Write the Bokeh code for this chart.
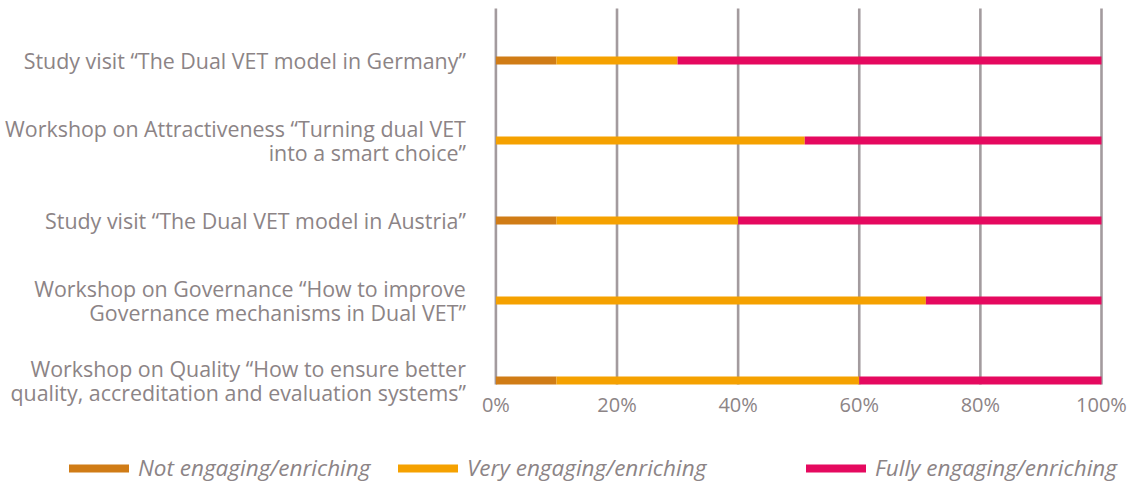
from bokeh.plotting import figure
from bokeh.models import (ColumnDataSource, Range1d, FixedTicker, Legend, LegendItem)
from bokeh.embed import file_html
from bokeh.resources import INLINE

# Data (top to bottom as shown)
categories = [
    "Study visit \u201cThe Dual VET model in Germany\u201d",
    "Workshop on Attractiveness \u201cTurning dual VET\ninto a smart choice\u201d",
    "Study visit \u201cThe Dual VET model in Austria\u201d",
    "Workshop on Governance \u201cHow to improve\nGovernance mechanisms in Dual VET\u201d",
    "Workshop on Quality \u201cHow to ensure better\nquality, accreditation and evaluation systems\u201d",
]
not_engaging = [10, 0, 10, 0, 10]
very_engaging = [20, 51, 30, 71, 50]
fully_engaging = [70, 49, 60, 29, 40]
series_names = ["Not engaging/enriching", "Very engaging/enriching", "Fully engaging/enriching"]
colors = ["#d07c16", "#f5a100", "#e5095f"]
x_ticks = [0, 20, 40, 60, 80, 100]
x_tick_labels = ["0%", "20%", "40%", "60%", "80%", "100%"]

n = len(categories)
ypos = [n - 1 - i for i in range(n)]

source = ColumnDataSource(dict(
    y=ypos,
    not_e=not_engaging,
    very_e=very_engaging,
    fully_e=fully_engaging,
))

# chart extents (layout)
Y_LOW, Y_HIGH = -0.05, 4.65
grid_src = ColumnDataSource(dict(x=x_ticks, y0=[Y_LOW] * len(x_ticks), y1=[Y_HIGH] * len(x_ticks)))

FONT = "Open Sans"
TXT = "#8c8486"
GRID = "#a39b9e"

p = figure(width=1136, height=483, output_backend="svg", toolbar_location=None,
           x_range=Range1d(-81.8, 105.78), y_range=Range1d(-1.2875, 4.75),
           min_border_left=0, min_border_right=0, min_border_top=0, min_border_bottom=0)
p.outline_line_color = None
p.background_fill_color = None
p.border_fill_color = "white"
p.xgrid.visible = False
p.ygrid.visible = False

# vertical grid lines limited to the chart area
p.segment(x0="x", x1="x", y0="y0", y1="y1", source=grid_src,
          line_color=GRID, line_width=2.6, level="underlay")

rs = p.hbar_stack(["not_e", "very_e", "fully_e"], y="y", height=0.1, color=colors,
                  line_color=None, source=source)

# axes drawn inside the frame
p.xaxis.fixed_location = Y_LOW
p.xaxis.ticker = FixedTicker(ticks=x_ticks)
p.xaxis.major_label_overrides = {t: l for t, l in zip(x_ticks, x_tick_labels)}
p.xaxis.axis_line_color = None
p.xaxis.major_tick_line_color = None
p.xaxis.minor_tick_line_color = None
p.xaxis.major_tick_out = 0
p.xaxis.major_tick_in = 0
p.xaxis.major_label_standoff = 6
p.xaxis.major_label_text_font = FONT
p.xaxis.major_label_text_font_size = "20px"
p.xaxis.major_label_text_color = TXT

p.yaxis.fixed_location = 0
p.yaxis.ticker = FixedTicker(ticks=ypos)
p.yaxis.major_label_overrides = {y: c for y, c in zip(ypos, categories)}
p.yaxis.axis_line_color = None
p.yaxis.major_tick_line_color = None
p.yaxis.minor_tick_line_color = None
p.yaxis.major_tick_out = 0
p.yaxis.major_tick_in = 0
p.yaxis.major_label_standoff = 30
p.yaxis.major_label_text_font = FONT
p.yaxis.major_label_text_font_size = "21.4px"
p.yaxis.major_label_text_color = TXT
p.yaxis.major_label_text_align = "right"
p.yaxis.major_label_text_line_height = 0.85

legend_x = [61, 390, 798]
for r, name, lx in zip(rs, series_names, legend_x):
    lg = Legend(items=[LegendItem(label=name, renderers=[r])], location=(lx, 0),
                orientation="horizontal", glyph_width=75, glyph_height=10,
                label_standoff=2, padding=0, margin=0, spacing=0,
                border_line_color=None, background_fill_alpha=0,
                label_text_font=FONT, label_text_font_size="22.5px",
                label_text_font_style="italic", label_text_color=TXT)
    p.add_layout(lg, "center")

open("out.html", "w").write(file_html(p, INLINE))
